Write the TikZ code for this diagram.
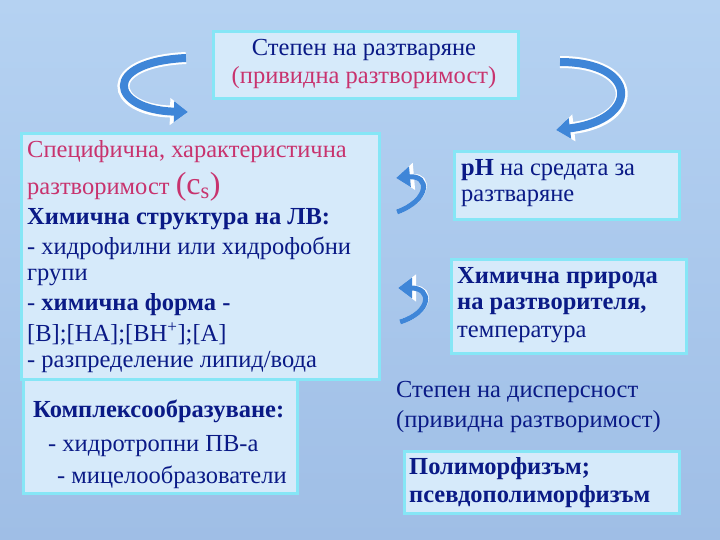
\documentclass[tikz,border=0pt]{standalone}
\usepackage{fontspec}
\setmainfont{Liberation Serif}
\usetikzlibrary{arrows.meta}
\definecolor{navy}{HTML}{0A1A86}
\definecolor{mag}{HTML}{C8336E}
\definecolor{boxf}{HTML}{D6EAFA}
\definecolor{boxd}{HTML}{86E6F6}
\definecolor{arr}{HTML}{3F86D8}
\definecolor{bgtop}{HTML}{B5D2F2}
\definecolor{bgbot}{HTML}{9FBEE6}
\tikzset{
 bx/.style={draw=boxd,fill=boxf,line width=3pt},
 tx/.style={anchor=west,inner sep=0pt,text=navy,font=\fontsize{24.5}{28}\selectfont},
 bt/.style={tx,font=\bfseries\fontsize{24.5}{28}\selectfont},
 arrw/.style={white,line width=12pt,-{Triangle[length=18pt,width=26pt]}},
 arrb/.style={arr,line width=8pt,-{Triangle[length=14pt,width=20pt]}},
}
\begin{document}
\begin{tikzpicture}[x=1pt,y=-1pt]
\shade[top color=bgtop,bottom color=bgbot] (0,0) rectangle (720,540);
\useasboundingbox (0,0) rectangle (720,540);
% boxes
\node[bx,minimum width=305,minimum height=67,anchor=north west] (top) at (212,30) {};
\node[bx,minimum width=358,minimum height=246,anchor=north west] (left) at (20,132) {};
\node[bx,minimum width=274,minimum height=114,anchor=north west] (cplx) at (22,378) {};
\node[bx,minimum width=225,minimum height=68,anchor=north west] (ph) at (453,150) {};
\node[bx,minimum width=235,minimum height=94,anchor=north west] (chem) at (450,258) {};
\node[bx,minimum width=275,minimum height=62,anchor=north west] (poly) at (403,450) {};
% texts
\node[tx,anchor=center] (t1) at (364,50) {Степен на разтваряне};
\node[tx,anchor=center,text=mag] (t2) at (364,78) {(привидна разтворимост)};
\node[tx,text=mag] (l1) at (27,152) {Специфична, характеристична};
\node[tx,text=mag] (l2) at (27,187) {разтворимост {\fontsize{32}{34}\selectfont(c\textsubscript{s})}};
\node[bt] (l3) at (27,219) {Химична структура на ЛВ:};
\node[tx] (l4) at (27,248) {- хидрофилни или хидрофобни};
\node[tx] (l5) at (27,277) {групи};
\node[tx] (l6) at (27,305) {- \textbf{химична форма -}};
\node[tx] (l7) at (27,334) {[B];[HA];[BH\textsuperscript{+}];[A]};
\node[tx] (l8) at (27,362) {- разпределение липид/вода};
\node[bt] (c1) at (33,411) {Комплексообразуване:};
\node[tx] (c2) at (48,446) {- хидротропни ПВ-а};
\node[tx] (c3) at (57,477) {- мицелообразователи};
\node[tx] (p1) at (461,170) {\textbf{pH} на средата за};
\node[tx] (p2) at (461,198) {разтваряне};
\node[bt] (h1) at (457,278) {Химична природа};
\node[bt] (h2) at (457,306) {на разтворителя,};
\node[tx] (h3) at (457,334) {температура};
\node[tx] (d1) at (396,392) {Степен на дисперсност};
\node[tx] (d2) at (396,422) {(привидна разтворимост)};
\node[bt] (o1) at (409,469) {Полиморфизъм;};
\node[bt] (o2) at (409,497) {псевдополиморфизъм};
% arrows
\coordinate (a1s) at (186,58); \coordinate (a1e) at (188,112);
\foreach \s in {arrw,arrb}
 \draw[\s] (a1s) .. controls (100,62) and (110,110) .. (a1e);
\coordinate (a2s) at (560,62); \coordinate (a2e) at (556,130);
\foreach \s in {arrw,arrb}
 \draw[\s] (a2s) .. controls (640,62) and (640,120) .. (a2e);
\coordinate (a3s) at (397,212); \coordinate (a3e) at (396,178);
\foreach \s in {arrw,arrb}
 \draw[\s,line width=5pt] (a3s) .. controls (430,200) and (430,175) .. (a3e);
\coordinate (a4s) at (400,322); \coordinate (a4e) at (398,288);
\foreach \s in {arrw,arrb}
 \draw[\s,line width=5pt] (a4s) .. controls (432,312) and (432,288) .. (a4e);
\end{tikzpicture}
\end{document}
